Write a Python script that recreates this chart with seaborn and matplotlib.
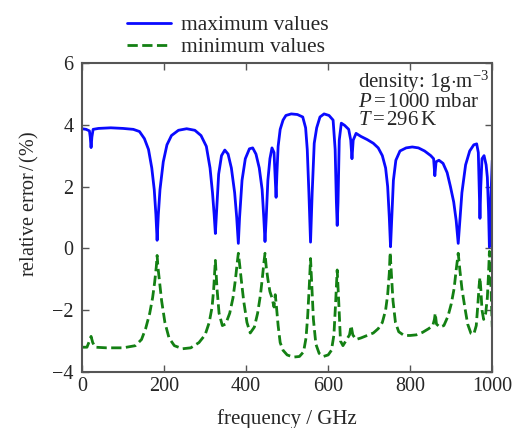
import matplotlib
matplotlib.use("Agg")
import matplotlib.pyplot as plt
import seaborn as sns

# Relative error vs frequency
freq_max = [0, 10, 18, 20, 22, 24, 27, 40, 70, 100, 125, 140, 152, 162, 170, 176, 180, 183, 186, 190,
            198, 207, 218, 235, 255, 275, 290, 303, 312, 318, 322, 325, 328, 333, 340, 348, 356, 364,
            372, 377, 381, 384, 390, 398, 408, 416, 424, 432, 439, 443, 446, 449, 453, 458, 463, 468,
            471, 473, 475, 478, 483, 490, 497, 510, 525, 538, 545, 549, 553, 557, 561, 566, 572, 580,
            590, 602, 612, 617, 620, 622, 624, 627, 632, 640, 650, 655, 658, 661, 668, 680, 695, 710,
            722, 732, 740, 745, 749, 752, 755, 759, 765, 775, 790, 805, 820, 835, 850, 857, 860, 863,
            870, 880, 890, 898, 906, 912, 917, 921, 926, 935, 945, 955, 962, 966, 968, 970, 972, 975,
            980, 985, 988, 991, 993, 996, 1000]
err_max = [3.87, 3.85, 3.8, 3.6, 3.26, 3.6, 3.85, 3.88, 3.9, 3.88, 3.85, 3.78, 3.55, 3.2, 2.6, 1.9,
           1.1, 0.26, 1.1, 1.9, 2.8, 3.35, 3.65, 3.82, 3.87, 3.82, 3.65, 3.3, 2.6, 1.8, 1.1, 0.48,
           1.2, 2.4, 3.0, 3.18, 3.05, 2.6, 1.8, 1.0, 0.16, 1.0, 2.2, 2.9, 3.22, 3.25, 3.05, 2.6, 1.9,
           1.0, 0.22, 1.0, 2.2, 2.9, 3.25, 3.1, 2.2, 1.65, 2.4, 3.3, 3.85, 4.15, 4.3, 4.35, 4.33,
           4.25, 3.9, 3.2, 1.8, 0.2, 1.8, 3.4, 3.9, 4.25, 4.35, 4.3, 4.15, 3.2, 1.5, 0.74, 1.5, 3.5,
           4.05, 3.98, 3.85, 3.5, 2.9, 3.5, 3.72, 3.62, 3.52, 3.4, 3.25, 3.0, 2.6, 2.0, 1.0, 0.05,
           1.0, 2.2, 2.85, 3.15, 3.25, 3.28, 3.25, 3.15, 3.0, 2.9, 2.35, 2.8, 2.85, 2.75, 2.45, 2.0,
           1.5, 0.9, 0.16, 0.9, 1.8, 2.7, 3.15, 3.35, 3.38, 3.1, 2.0, 0.97, 2.0, 2.9, 3.0, 2.7, 2.3,
           1.2, 0.04, 1.4, 2.85]

freq_min = [0, 12, 18, 22, 26, 32, 60, 100, 130, 145, 155, 165, 172, 177, 181, 183, 185, 189, 194,
            202, 212, 225, 245, 265, 285, 300, 310, 317, 321, 325, 329, 334, 342, 350, 360, 368, 374,
            378, 381, 384, 388, 394, 402, 410, 420, 428, 435, 440, 443, 446, 449, 453, 458, 463, 468,
            471, 474, 478, 483, 490, 500, 515, 530, 540, 546, 550, 554, 557, 560, 564, 570, 578, 588,
            600, 608, 614, 618, 622, 626, 630, 636, 645, 652, 656, 660, 668, 680, 695, 710, 722, 732,
            740, 745, 749, 751, 754, 758, 764, 772, 785, 800, 815, 830, 845, 855, 859, 861, 864, 872,
            882, 892, 900, 907, 912, 917, 921, 926, 933, 940, 948, 955, 961, 965, 968, 970, 972, 975,
            979, 984, 988, 991, 993, 996, 1000]
err_min = [-3.2, -3.2, -3.0, -2.85, -3.05, -3.2, -3.22, -3.22, -3.15, -2.95, -2.6, -2.1, -1.6, -1.1,
           -0.6, -0.23, -0.6, -1.1, -1.7, -2.4, -2.9, -3.15, -3.25, -3.22, -3.05, -2.8, -2.4, -1.9,
           -1.3, -0.39, -1.3, -2.1, -2.5, -2.45, -2.1, -1.6, -1.0, -0.5, -0.16, -0.5, -1.0, -1.7,
           -2.4, -2.74, -2.55, -2.1, -1.5, -0.9, -0.5, -0.16, -0.6, -1.0, -1.4, -1.6, -1.9, -1.5,
           -1.9, -2.5, -3.05, -3.3, -3.45, -3.52, -3.5, -3.35, -2.9, -2.2, -1.2, -0.33, -1.2, -2.3,
           -3.1, -3.4, -3.5, -3.45, -3.3, -2.8, -1.8, -0.7, -1.8, -3.0, -3.15, -2.95, -2.8, -2.5,
           -2.8, -2.95, -2.9, -2.82, -2.74, -2.6, -2.4, -2.0, -1.5, -0.8, -0.13, -0.8, -1.7, -2.4,
           -2.7, -2.82, -2.82, -2.8, -2.72, -2.6, -2.5, -2.3, -2.1, -2.45, -2.55, -2.5, -2.2, -1.8,
           -1.3, -0.7, -0.16, -0.7, -1.3, -1.9, -2.45, -2.75, -2.78, -2.5, -1.8, -1.2, -0.94, -1.3,
           -2.0, -2.3, -2.1, -1.6, -0.8, -0.1, -0.9, -2.55]

x_ticks = [0, 200, 400, 600, 800, 1000]
y_ticks = [-4, -2, 0, 2, 4, 6]

sns.set_style("ticks")
plt.rcParams['font.family'] = ['Liberation Serif', 'DejaVu Serif']
plt.rcParams['mathtext.fontset'] = 'custom'
plt.rcParams['mathtext.rm'] = 'Liberation Serif'
plt.rcParams['mathtext.it'] = 'Liberation Serif:italic'

fig = plt.figure(figsize=(5.16, 4.28), dpi=100)
ax = fig.add_axes([0.159, 0.131, 0.795, 0.722])

sns.lineplot(x=freq_max, y=err_max, ax=ax, color='#0a0aff', lw=2, label='maximum values')
sns.lineplot(x=freq_min, y=err_min, ax=ax, color='#138013', lw=2, ls='--', label='minimum values')

ax.set_xlim(0, 1000)
ax.set_ylim(-4, 6)
ax.set_xticks(x_ticks)
ax.set_yticks(y_ticks)
ax.tick_params(direction='in', top=True, right=True, length=5, width=1, labelsize=14.5,
               color='#555555', pad=4)
ax.tick_params(axis='y', pad=6)
for s in ax.spines.values():
    s.set_color('#555555')
    s.set_linewidth(1.5)

ax.set_xlabel('frequency / GHz', fontsize=15, labelpad=9)
ax.set_ylabel('relative error$\\,$/$\\,$(%)', fontsize=14.5)
ax.yaxis.set_label_coords(-0.10, 0.544)

ax.text(0.673, 0.982, 'density: 1g$\\cdot$m$^{-3}$\n$P\\,$=$\\,$1000 mbar\n$T\\,$=$\\,$296$\\,$K',
        transform=ax.transAxes, ha='left', va='top', fontsize=15, linespacing=0.9)

ax.get_legend().remove()
h, l = ax.get_legend_handles_labels()
fig.legend(h, l, loc='upper left', bbox_to_anchor=(0.217, 1.0), frameon=False, fontsize=15.5,
           handlelength=2.05, handletextpad=0.47, labelspacing=0.1, borderpad=0.2)

plt.savefig("out.png", dpi=100)
